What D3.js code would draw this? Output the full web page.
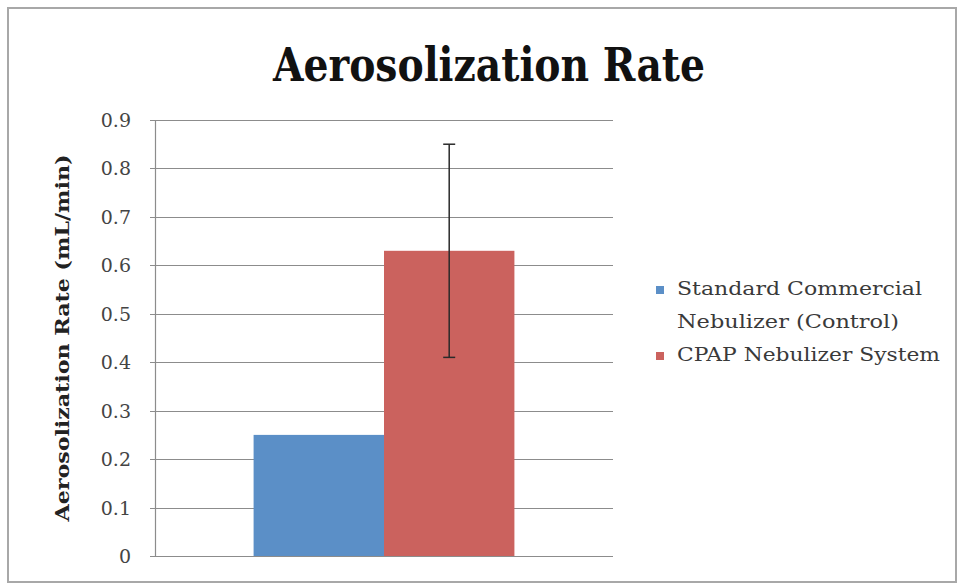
<!DOCTYPE html>
<html><head><meta charset="utf-8">
<script src="https://cdn.jsdelivr.net/npm/d3@7"></script>
<style>html,body{margin:0;padding:0;background:#fff;}</style>
</head><body>
<script>
const title = "Aerosolization Rate";
const yAxisTitle = "Aerosolization Rate (mL/min)";
const seriesNames = ["Standard Commercial Nebulizer (Control)", "CPAP Nebulizer System"];
const legendLines = [["Standard Commercial", "Nebulizer (Control)"], ["CPAP Nebulizer System"]];
const seriesValues = [0.25, 0.63];
const seriesErrors = [null, 0.22];
const seriesColors = ["#5b8fc7", "#cb625e"];
const yTicks = [0, 0.1, 0.2, 0.3, 0.4, 0.5, 0.6, 0.7, 0.8, 0.9];

const W = 958, H = 583;
const svg = d3.select("body").append("svg").attr("width", W).attr("height", H);

// chart border
svg.append("rect").attr("x", 8).attr("y", 8).attr("width", 948).attr("height", 574)
  .attr("fill", "#fff").attr("stroke", "#a8a8a8").attr("stroke-width", 2);

const plot = {left: 155, right: 613, top: 120, bottom: 556};
const y = d3.scaleLinear().domain([0, 0.9]).range([plot.bottom, plot.top]);
const xOuter = d3.scaleBand().domain(["g"]).range([plot.left, plot.right]).paddingInner(0).paddingOuter(0.378);
const x = d3.scaleBand().domain(seriesNames).range([xOuter("g"), xOuter("g") + xOuter.bandwidth()]);

// gridlines
svg.append("g").selectAll("line").data(yTicks).join("line")
  .attr("x1", plot.left - 5).attr("x2", plot.right)
  .attr("y1", d => Math.round(y(d)) + 0.5).attr("y2", d => Math.round(y(d)) + 0.5)
  .attr("stroke", "#8c8c8c").attr("stroke-width", 1.2);

// y axis line
svg.append("line").attr("x1", plot.left + 0.5).attr("x2", plot.left + 0.5)
  .attr("y1", plot.top).attr("y2", plot.bottom + 0.5).attr("stroke", "#8c8c8c").attr("stroke-width", 1.2);

// tick labels
svg.append("g").selectAll("text").data(yTicks).join("text")
  .attr("x", 131).attr("y", d => y(d) + 7)
  .attr("text-anchor", "end")
  .attr("font-family", "DejaVu Serif, Liberation Serif, serif")
  .attr("font-size", 19).attr("fill", "#444")
  .text(d => d === 0 ? "0" : d3.format(".1f")(d));

// bars
svg.append("g").selectAll("rect").data(seriesNames).join("rect")
  .attr("x", d => x(d)).attr("width", x.bandwidth())
  .attr("y", (d, i) => y(seriesValues[i]))
  .attr("height", (d, i) => y(0) - y(seriesValues[i]))
  .attr("fill", (d, i) => seriesColors[i]);

// error bars
const eg = svg.append("g");
seriesNames.forEach((s, i) => {
  if (seriesErrors[i] == null) return;
  const cx = x(s) + x.bandwidth() / 2;
  const yt = y(seriesValues[i] + seriesErrors[i]);
  const yb = y(seriesValues[i] - seriesErrors[i]);
  eg.append("line").attr("x1", cx).attr("x2", cx).attr("y1", yt).attr("y2", yb)
    .attr("stroke", "#2a2a2a").attr("stroke-width", 1.5);
  [yt, yb].forEach(yy => eg.append("line").attr("x1", cx - 6).attr("x2", cx + 6)
    .attr("y1", yy).attr("y2", yy).attr("stroke", "#2a2a2a").attr("stroke-width", 1.5));
});

// title
svg.append("text").attr("x", 489).attr("y", 81).attr("text-anchor", "middle")
  .attr("font-family", "DejaVu Serif Condensed, DejaVu Serif, serif").attr("font-weight", "bold")
  .attr("font-size", 46).attr("fill", "#111")
  .attr("textLength", 432).attr("lengthAdjust", "spacingAndGlyphs")
  .text(title);

// y axis title
svg.append("text")
  .attr("transform", "translate(69,338) rotate(-90)")
  .attr("text-anchor", "middle")
  .attr("font-family", "DejaVu Serif Condensed, DejaVu Serif, serif").attr("font-weight", "bold")
  .attr("font-size", 19).attr("fill", "#222")
  .attr("textLength", 367).attr("lengthAdjust", "spacingAndGlyphs")
  .text(yAxisTitle);

// legend
const lg = svg.append("g");
const legendRows = [[295, 328], [361]];
const legendWidths = [[245, 222], [263]];
legendLines.forEach((lines, i) => {
  lg.append("rect").attr("x", 656).attr("y", legendRows[i][0] - 9).attr("width", 8).attr("height", 8)
    .attr("fill", seriesColors[i]);
  lines.forEach((t, j) => {
    lg.append("text").attr("x", 677).attr("y", legendRows[i][j])
      .attr("font-family", "DejaVu Serif, Liberation Serif, serif")
      .attr("font-size", 19).attr("fill", "#3a3a3a")
      .attr("textLength", legendWidths[i][j]).attr("lengthAdjust", "spacingAndGlyphs")
      .text(t);
  });
});
</script>
</body></html>
